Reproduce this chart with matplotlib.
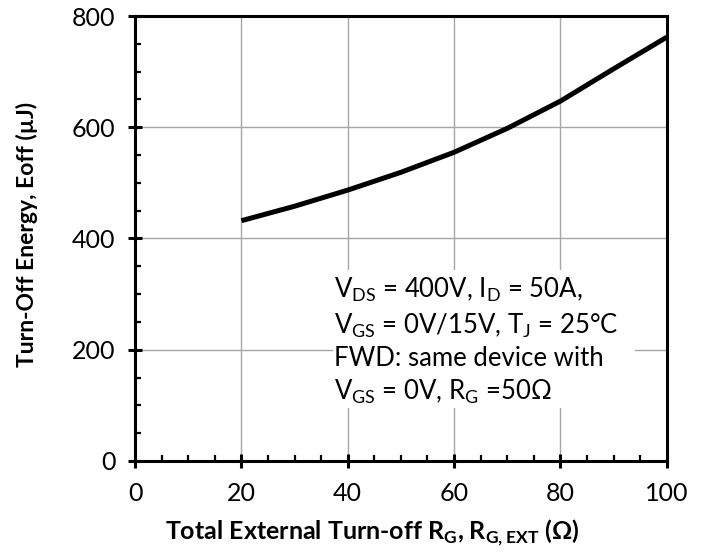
import matplotlib
matplotlib.use("Agg")
import matplotlib.pyplot as plt
from matplotlib.patches import Rectangle
from matplotlib.ticker import MultipleLocator

# gate resistance (ohm) vs turn-off energy (uJ)
rg = [20, 30, 40, 50, 60, 70, 80, 90, 100]
eoff = [432, 458, 487, 519, 555, 598, 647, 705, 762]

x_ticks = [0, 20, 40, 60, 80, 100]
y_ticks = [0, 200, 400, 600, 800]

cond_lines = [
    r"V$_{\mathregular{DS}}$ = 400V, I$_{\mathregular{D}}$ = 50A,",
    r"V$_{\mathregular{GS}}$ = 0V/15V, T$_{\mathregular{J}}$ = 25°C",
    "FWD: same device with",
    r"V$_{\mathregular{GS}}$ = 0V, R$_{\mathregular{G}}$ =50Ω",
]

plt.rcParams['font.family'] = ['Lato', 'DejaVu Sans']
plt.rcParams['mathtext.fontset'] = 'custom'
plt.rcParams['mathtext.rm'] = 'Lato'
plt.rcParams['mathtext.bf'] = 'Lato:bold'
plt.rcParams['mathtext.fallback'] = 'stixsans'

fig = plt.figure(figsize=(7.07, 5.54), dpi=100)
ax = fig.add_axes([0.191, 0.168, 0.752, 0.803])

ax.plot(rg, eoff, color='black', linewidth=3.6, solid_capstyle='butt', zorder=3)

ax.set_xlim(0, 100)
ax.set_ylim(0, 800)
ax.set_xticks(x_ticks)
ax.set_yticks(y_ticks)
ax.xaxis.set_minor_locator(MultipleLocator(5))
ax.yaxis.set_minor_locator(MultipleLocator(50))
ax.grid(True, which='major', color='#a6a6a6', linewidth=1.0, zorder=0)

for s in ax.spines.values():
    s.set_linewidth(2.2)
ax.tick_params(which='major', direction='inout', length=10, width=2.2,
               labelsize=18, top=False, right=False)
ax.tick_params(which='minor', direction='in', length=4.5, width=1.6,
               top=False, right=False)
ax.tick_params(axis='x', which='major', pad=10)
ax.tick_params(axis='y', which='major', pad=9)

ax.set_xlabel(r"Total External Turn-off R$_{\mathbf{G}}$, R$_{\mathbf{G,EXT}}$ (Ω)",
              fontsize=18, fontweight='bold')
ax.xaxis.set_label_coords(0.447, -0.128)
ax.set_ylabel("Turn-Off Energy, Eoff (µJ)", fontsize=16.5, fontweight='bold')
ax.yaxis.set_label_coords(-0.182, 0.51)

# white panel behind the test conditions, hiding the grid
ax.add_patch(Rectangle((37.2, 95), 56.8, 248, facecolor='white',
                       edgecolor='none', zorder=2))
ax.text(37.5, 333, "\n".join(cond_lines), fontsize=18.5, va='top', ha='left',
        linespacing=1.31, zorder=4)

fig.savefig("out.png", dpi=100)
